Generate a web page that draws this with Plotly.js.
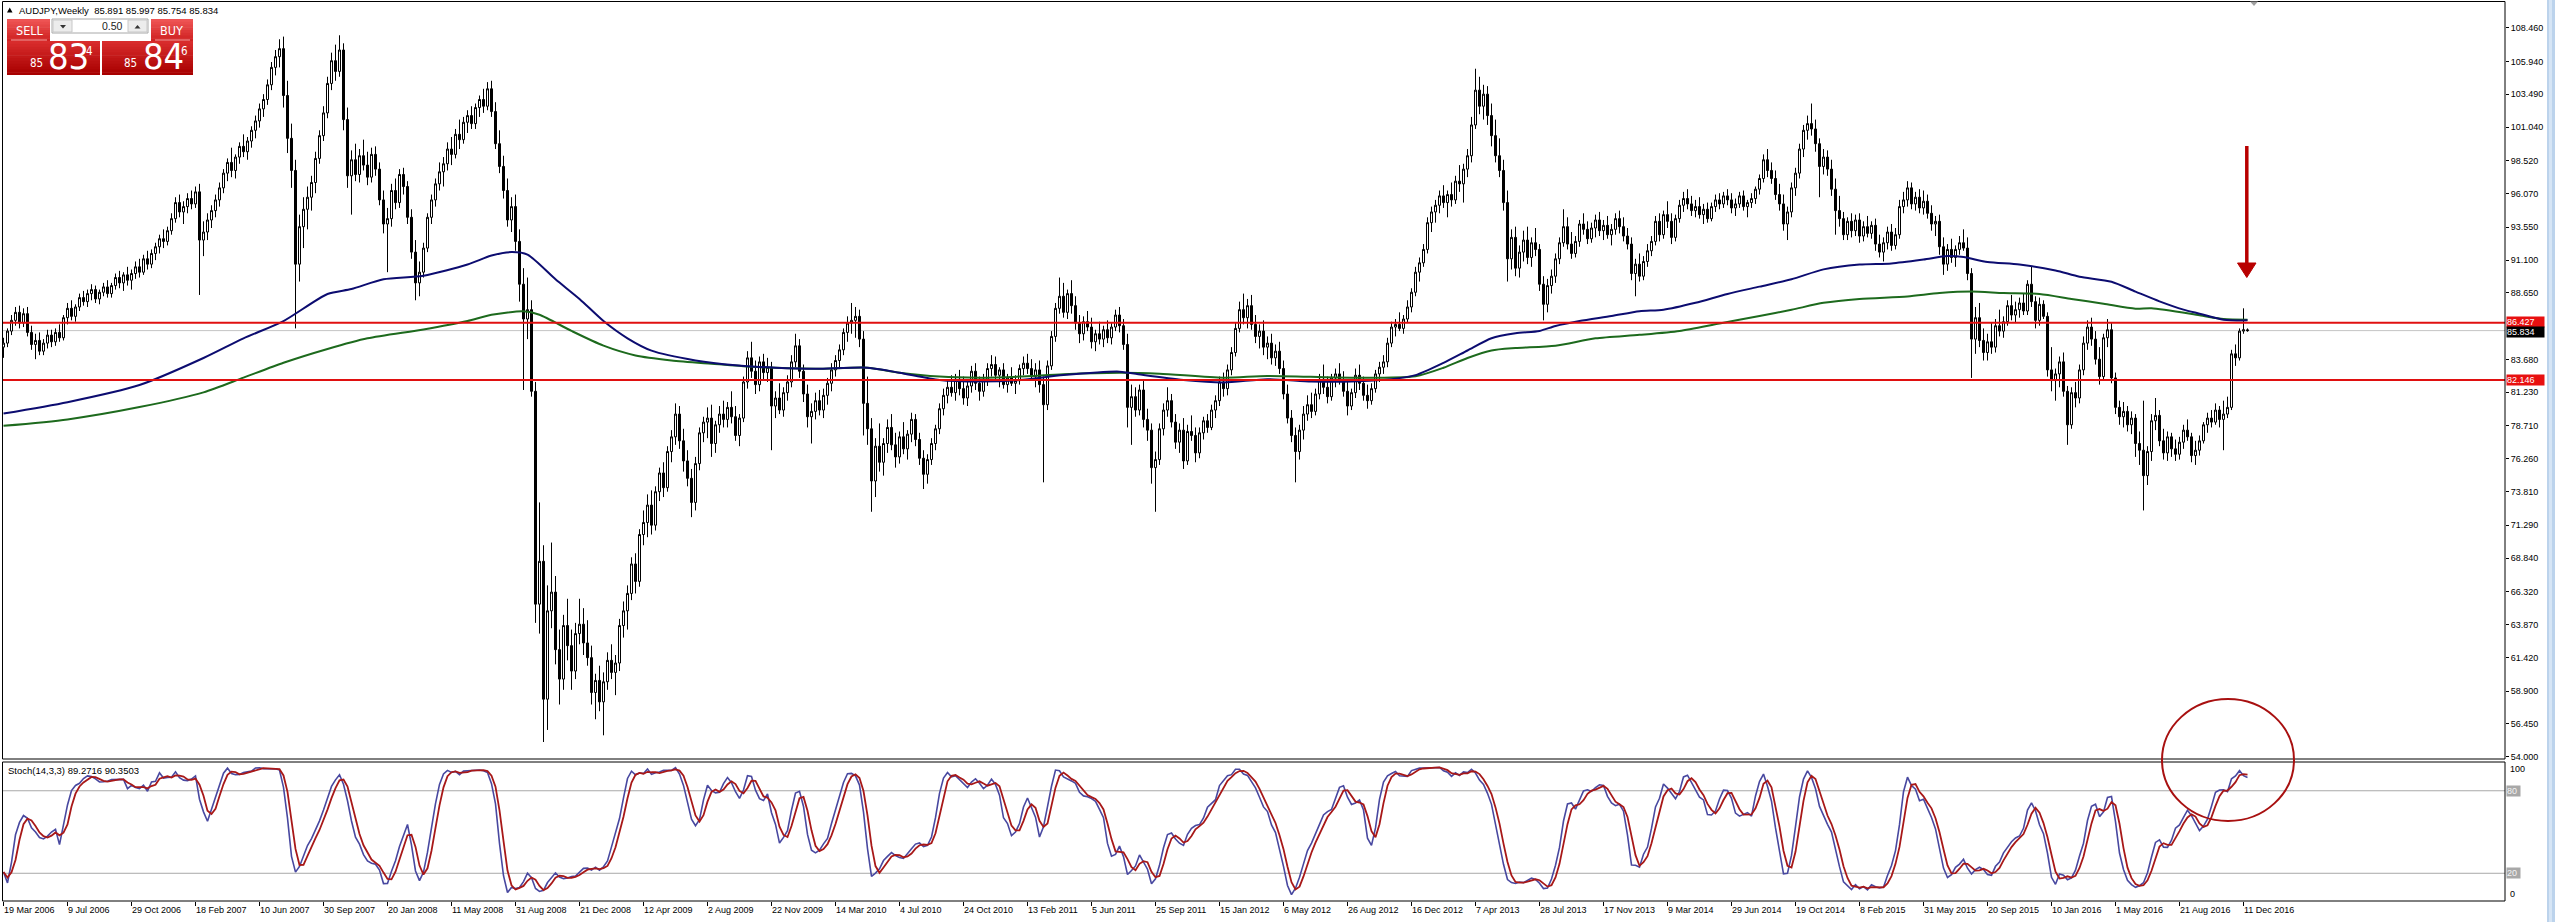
<!DOCTYPE html>
<html><head><meta charset="utf-8">
<script src="https://cdn.plot.ly/plotly-3.0.1.min.js"></script>
<style>html,body{margin:0;padding:0;background:#fff;overflow:hidden}#chart{width:2555px;height:922px}</style>
</head><body><div id="chart"></div>
<script>
// ---------------- DATA (AUDJPY weekly) ----------------
const dateLabels = ["19 Mar 2006","9 Jul 2006","29 Oct 2006","18 Feb 2007","10 Jun 2007","30 Sep 2007","20 Jan 2008","11 May 2008","31 Aug 2008","21 Dec 2008","12 Apr 2009","2 Aug 2009","22 Nov 2009","14 Mar 2010","4 Jul 2010","24 Oct 2010","13 Feb 2011","5 Jun 2011","25 Sep 2011","15 Jan 2012","6 May 2012","26 Aug 2012","16 Dec 2012","7 Apr 2013","28 Jul 2013","17 Nov 2013","9 Mar 2014","29 Jun 2014","19 Oct 2014","8 Feb 2015","31 May 2015","20 Sep 2015","10 Jan 2016","1 May 2016","21 Aug 2016","11 Dec 2016"];
const dateBar = [0,16,32,48,64,80,96,112,128,144,160,176,192,208,224,240,256,272,288,304,320,336,352,368,384,400,416,432,448,464,480,496,512,528,544,560];

const priceTicks = [108.46,105.94,103.49,101.04,98.52,96.07,93.55,91.10,88.65,83.68,81.23,78.71,76.26,73.81,71.29,68.84,66.32,63.87,61.42,58.90,56.45,54.00];
const priceTickText = ["108.460","105.940","103.490","101.040","98.520","96.070","93.550","91.100","88.650","83.680","81.230","78.710","76.260","73.810","71.290","68.840","66.320","63.870","61.420","58.900","56.450","54.000"];

const open = [
84.6,84.9,85.8,86.6,87.2,86.4,87.1,85.7,84.8,85.1,84.3,84.9,85.5,85.0,85.7,85.3,
86.8,87.5,86.9,87.6,88.3,88.0,88.6,88.9,88.2,88.7,89.1,88.6,89.2,89.8,89.4,90.0,
89.6,90.1,90.6,90.2,91.2,90.8,91.6,92.1,92.7,92.5,93.3,94.2,95.4,94.7,95.1,95.7,
95.3,96.2,92.6,93.2,94.1,94.8,95.6,96.5,97.6,98.4,97.8,98.8,99.6,99.2,100.0,100.8,
101.5,102.4,103.1,104.2,105.5,106.3,106.9,103.4,100.2,97.8,90.8,93.6,94.9,95.8,96.9,98.7,
100.4,102.1,104.3,106.0,105.2,106.8,101.6,97.4,98.6,97.5,98.9,98.2,97.3,99.0,97.9,95.6,
93.8,94.2,96.3,95.4,97.5,96.6,94.3,91.7,89.4,90.2,92.0,94.3,95.6,96.8,97.7,98.3,
99.4,99.0,100.5,100.1,101.4,101.9,101.3,102.5,103.1,102.6,103.9,102.2,99.8,98.1,96.3,94.1,
95.1,92.5,89.3,86.7,87.4,81.3,65.4,68.6,58.3,64.9,66.3,62.0,59.8,63.8,62.3,60.4,
63.2,63.9,62.5,61.4,58.8,59.7,58.1,59.6,61.2,60.3,61.0,63.8,64.9,66.2,68.4,67.1,
70.6,71.5,72.8,71.3,73.8,75.2,74.1,76.8,77.9,79.6,77.6,76.1,74.8,73.0,75.9,78.2,
79.0,79.3,77.4,78.8,79.6,79.2,80.1,79.4,78.0,79.3,82.0,83.8,82.8,81.8,83.5,82.7,
83.1,80.2,80.8,79.9,81.2,82.0,83.5,84.7,82.8,81.1,79.4,79.8,80.6,79.9,81.0,81.9,
82.9,83.6,84.4,85.7,86.4,86.6,86.9,85.2,80.4,78.5,74.6,77.2,76.0,77.4,78.6,77.3,
76.4,77.9,77.0,78.1,79.2,77.7,76.3,75.1,76.2,77.4,78.5,80.0,81.0,81.6,81.2,82.2,
81.5,80.8,81.7,82.8,81.9,81.3,82.2,83.0,83.3,82.5,82.9,81.8,82.3,81.9,82.1,83.0,
83.4,83.0,82.4,82.9,81.8,80.3,83.2,85.4,87.5,88.4,87.2,88.6,87.7,86.4,85.6,86.5,
86.1,85.0,85.6,85.2,85.9,85.3,86.1,87.0,86.2,84.8,80.1,80.9,79.9,81.4,79.2,78.4,
75.6,76.2,78.5,79.9,80.6,79.0,77.5,78.4,76.1,78.3,78.0,76.7,78.2,79.1,78.6,79.9,
80.6,82.0,81.5,82.9,84.2,86.0,87.4,86.8,87.7,86.3,85.4,85.8,84.6,84.9,83.8,84.3,
83.0,81.1,79.3,78.0,76.8,78.4,79.6,80.3,79.8,81.1,82.2,81.6,80.9,82.3,82.6,82.1,
81.3,80.2,81.2,82.5,81.9,81.0,80.6,81.5,82.6,83.1,83.5,84.9,86.1,86.3,86.0,86.7,
87.6,88.7,90.2,90.9,91.9,93.9,94.7,95.2,95.9,95.4,96.0,95.6,97.0,96.8,97.9,98.9,
101.2,103.8,102.6,103.5,101.9,100.4,98.9,97.8,95.4,91.2,92.8,90.5,91.7,92.6,91.3,92.4,
91.9,89.3,87.8,89.2,89.9,91.2,92.4,93.6,92.3,91.6,92.5,93.8,93.4,92.7,93.5,94.1,
93.3,93.7,93.0,93.4,94.2,93.6,92.9,92.3,90.1,90.8,89.9,91.0,91.8,92.5,94.0,93.0,
94.5,94.0,92.8,94.2,95.2,95.7,95.3,94.8,95.1,94.5,94.9,94.2,95.1,95.6,95.3,95.9,
95.6,95.0,95.3,95.9,95.1,95.4,95.7,96.4,97.2,98.6,97.8,97.2,96.0,95.3,93.8,94.7,
96.5,97.6,99.4,100.8,101.3,100.9,99.8,98.1,98.8,97.9,96.4,94.8,94.2,93.0,94.0,93.3,
94.1,92.9,93.6,93.1,93.7,92.3,91.7,92.4,93.2,92.2,93.0,95.1,95.6,96.5,95.3,95.8,
95.0,95.5,94.6,93.8,94.0,92.1,90.8,91.9,91.3,91.9,92.4,92.0,90.1,85.2,86.8,85.1,
84.2,85.0,84.6,86.2,85.8,86.5,87.7,87.0,87.4,87.9,87.3,89.3,88.0,86.6,87.8,86.9,
82.9,82.1,82.6,83.5,81.3,78.8,81.2,80.8,82.9,84.9,86.1,85.2,83.7,82.4,85.3,85.9,
82.3,80.1,79.4,79.8,78.8,79.3,77.4,76.9,75.0,76.8,79.1,79.5,77.6,76.7,77.9,77.0,
76.6,77.5,78.4,77.9,76.5,76.9,77.6,78.8,79.3,79.0,79.9,79.2,79.6,80.1,84.1,83.8,85.8,85.891];

const high = [
85.3,86.0,87.0,87.6,87.7,87.5,87.6,86.2,85.6,85.7,85.2,85.9,85.9,86.0,86.3,87.0,
87.9,88.1,87.8,88.6,88.8,88.9,89.3,89.2,88.9,89.4,89.6,89.4,90.1,90.3,90.2,90.6,
90.4,91.0,91.2,91.5,91.8,91.9,92.4,93.0,93.4,93.6,94.6,95.8,96.0,95.5,96.1,96.3,
96.6,96.8,94.0,94.6,95.2,96.0,96.9,97.9,98.7,99.5,99.0,99.9,100.5,100.3,101.1,101.9,
102.8,103.5,104.6,105.9,106.8,107.6,107.8,104.5,101.3,98.6,94.5,95.8,96.6,97.4,99.2,100.8,
102.6,104.8,106.6,107.2,107.9,107.3,102.5,99.3,99.8,99.4,100.1,99.2,99.5,99.6,98.4,96.3,
95.0,96.8,97.2,97.9,98.0,97.0,94.9,92.6,91.0,92.4,94.6,96.0,97.2,98.4,98.8,99.9,
100.3,100.9,101.6,101.8,102.3,102.6,102.8,103.4,103.9,104.4,104.5,102.9,100.8,98.9,97.2,95.8,
96.0,93.4,90.5,89.8,88.1,82.0,73.0,69.8,66.8,70.0,67.5,63.5,64.6,65.8,63.5,64.0,
65.8,65.1,64.2,62.3,60.2,60.8,60.3,61.8,62.4,61.6,64.3,65.6,66.8,68.9,69.2,71.0,
72.4,73.6,73.9,74.2,75.6,76.0,77.2,78.4,80.4,80.2,78.5,76.9,75.5,76.4,78.6,79.4,
80.1,80.3,79.1,80.2,80.6,80.5,81.3,80.2,79.6,82.4,84.3,85.0,83.6,83.9,84.1,83.8,
83.5,81.3,81.9,81.6,82.5,84.0,85.6,85.2,83.3,81.8,80.4,81.2,81.4,81.5,82.3,83.4,
84.0,84.8,86.0,86.9,87.9,87.6,87.4,85.8,82.4,79.3,77.8,78.9,77.8,79.2,79.6,78.2,
78.3,79.0,78.4,79.7,79.6,78.2,76.9,76.6,77.8,78.8,80.4,81.5,82.2,82.5,82.6,82.9,
82.4,82.1,83.2,83.4,82.4,82.6,83.4,84.0,83.9,83.1,83.4,82.6,83.1,82.5,83.3,83.9,
84.1,83.7,83.4,83.6,82.4,83.6,85.8,87.9,89.8,89.4,88.9,89.6,88.4,87.0,86.9,87.3,
86.8,85.9,86.5,86.2,86.6,86.4,87.4,87.6,86.7,85.6,81.8,81.6,81.8,82.1,80.0,78.9,
76.8,78.9,80.4,81.6,81.1,79.6,78.9,79.3,78.8,79.5,78.6,78.6,79.4,79.6,80.3,81.0,
82.4,82.7,83.3,84.6,86.4,88.0,88.6,88.2,88.5,87.0,86.3,86.6,85.4,85.6,84.8,85.0,
83.6,81.8,79.9,78.6,78.8,80.2,81.0,81.2,81.5,82.6,83.3,82.4,82.6,83.0,83.4,82.8,
82.1,81.5,83.0,83.3,82.4,81.8,81.9,82.9,83.5,84.0,85.3,86.5,86.7,87.2,87.0,88.1,
89.0,90.6,91.3,92.3,94.3,95.1,95.6,96.3,96.7,96.3,96.9,97.4,98.2,98.3,99.4,101.8,
105.4,104.8,104.2,104.1,102.8,101.6,100.2,98.6,96.3,93.4,93.6,92.2,93.3,93.6,92.8,93.5,
92.3,89.9,89.7,90.4,91.6,92.8,94.9,94.3,93.2,92.9,94.1,94.6,94.0,93.9,94.5,94.7,
94.1,94.4,93.8,94.6,94.8,94.3,93.5,92.8,91.2,91.6,91.4,92.3,92.9,94.4,94.6,94.8,
95.5,94.6,94.5,95.6,96.2,96.4,95.9,95.6,95.8,95.3,95.4,95.4,96.0,96.1,96.2,96.4,
96.1,95.7,96.2,96.3,95.6,96.1,96.6,97.5,99.0,99.4,98.4,97.8,96.8,96.0,95.1,96.9,
98.0,99.8,101.2,101.9,102.8,101.6,100.2,99.4,99.3,98.6,97.2,95.9,94.7,94.3,94.6,94.5,
94.6,94.0,94.4,94.0,94.2,93.0,92.8,93.6,93.8,93.5,95.6,96.2,97.0,96.9,96.2,96.4,
96.3,96.0,95.2,94.4,94.5,92.8,92.3,92.7,92.2,92.9,93.4,92.8,90.5,87.6,87.9,86.0,
85.6,86.4,86.7,87.4,86.9,88.1,88.5,88.0,88.3,88.6,89.6,90.6,88.4,88.3,88.1,87.2,
84.6,83.0,83.9,84.2,81.7,81.6,82.0,83.3,85.4,86.6,86.8,85.8,84.6,85.6,86.7,86.4,
82.7,80.6,80.5,80.2,79.8,79.6,78.3,80.6,77.2,79.6,80.8,79.9,78.5,78.3,78.2,77.7,
77.9,78.8,79.2,78.2,77.6,78.0,79.0,79.7,79.9,80.4,80.2,80.6,80.9,84.4,84.8,86.0,87.5,85.997];

const low = [
83.8,84.6,85.5,86.2,86.0,86.1,85.4,84.4,83.7,84.0,84.0,84.5,84.6,84.7,85.0,85.1,
86.3,86.6,86.5,87.3,87.7,87.6,88.1,87.9,87.8,88.4,88.3,88.3,88.9,89.0,88.8,89.2,
88.9,89.7,89.8,90.0,90.4,90.5,91.1,91.6,92.0,92.2,93.0,93.9,94.3,93.8,94.6,94.9,
95.0,88.5,91.4,92.6,93.5,94.3,95.1,96.1,97.0,97.3,97.2,98.3,98.8,98.6,99.5,100.2,
101.0,101.8,102.7,103.8,104.9,105.5,102.5,99.1,96.5,86.0,89.5,92.0,93.4,94.8,96.1,98.3,
100.0,101.7,103.8,104.5,104.8,100.8,96.5,94.5,97.0,96.9,97.8,96.7,96.9,97.4,95.2,93.1,
90.2,93.6,94.9,95.0,96.0,93.8,91.2,88.1,88.4,89.8,91.7,93.8,95.1,96.3,96.6,97.8,
98.2,98.7,99.4,99.8,100.6,100.9,100.9,101.8,102.1,102.3,101.8,99.4,97.6,95.7,93.6,93.2,
91.8,88.0,81.4,85.2,80.9,64.0,63.2,55.1,56.0,63.6,60.9,57.9,59.0,61.2,59.0,59.8,
62.4,61.6,60.8,57.9,56.8,57.4,55.6,59.0,59.8,58.6,60.4,62.9,63.5,65.7,66.2,66.7,
69.8,70.4,70.6,70.9,73.1,73.4,73.8,76.0,77.3,77.0,75.3,74.2,71.9,72.4,75.4,77.5,
77.8,76.4,76.7,78.2,78.6,78.6,78.9,77.6,77.2,79.0,81.5,82.3,81.1,81.3,82.2,82.0,
76.9,79.3,79.6,79.4,80.6,81.6,83.1,82.3,80.5,78.6,77.4,79.2,79.5,79.3,80.3,81.3,
82.4,83.1,84.0,85.0,85.6,85.3,84.6,78.0,77.3,72.3,73.4,75.3,75.0,76.7,76.9,75.6,
75.9,76.6,76.2,77.5,77.2,75.8,74.0,74.4,75.8,76.9,78.1,79.5,80.4,80.9,80.6,81.0,
80.3,80.2,81.2,81.4,80.6,80.9,81.7,82.4,82.1,81.6,81.5,81.2,81.7,81.1,81.8,82.5,
82.6,82.1,81.6,81.2,74.5,79.9,82.9,85.0,87.1,86.8,86.7,87.1,85.9,84.9,85.1,85.8,
84.5,84.3,84.8,84.6,84.9,84.8,85.8,85.7,84.4,78.6,77.3,79.4,79.5,78.6,77.6,74.4,
72.3,75.8,78.0,79.4,78.6,77.0,76.7,75.5,75.8,77.6,76.0,76.3,77.7,78.2,78.4,79.3,
80.2,80.9,81.0,82.5,83.9,85.7,86.3,86.0,85.9,84.9,84.5,84.0,83.7,83.3,83.2,82.6,
80.7,78.9,77.5,74.5,76.2,77.7,79.1,79.3,79.5,80.7,81.1,80.4,80.6,81.6,81.8,80.9,
79.5,79.9,80.8,81.4,80.6,80.0,80.3,81.2,82.0,82.6,83.1,84.6,85.4,85.8,85.6,86.4,
87.2,88.4,89.5,90.6,91.6,93.2,93.9,94.6,95.0,94.3,95.1,95.3,96.2,95.4,97.3,98.4,
100.9,102.0,101.6,101.2,99.6,98.4,97.3,94.8,89.5,90.4,89.9,89.8,91.0,90.8,90.6,91.4,
88.8,86.6,87.2,88.6,89.4,90.8,92.1,91.9,91.2,91.3,92.1,93.0,92.3,92.4,92.8,92.9,
92.6,92.7,92.2,93.0,93.1,92.5,91.9,89.6,88.4,89.5,89.6,90.6,91.4,92.2,92.5,92.7,
93.5,92.3,92.5,93.9,94.7,94.9,94.4,94.3,94.2,93.8,93.9,94.0,94.7,94.9,95.0,95.2,
94.6,94.4,95.0,94.8,94.3,95.0,95.3,96.0,96.9,97.3,96.8,95.6,94.8,93.3,92.6,94.3,
95.9,97.2,98.8,100.1,100.4,99.2,95.8,97.5,97.4,95.9,93.0,93.6,92.6,92.6,92.8,92.9,
92.4,92.5,92.8,92.7,91.8,91.3,91.0,91.9,91.8,91.9,92.7,94.6,95.1,94.9,94.8,94.6,
94.5,94.2,93.3,92.9,91.5,90.0,90.3,90.9,90.6,91.5,91.8,89.6,82.3,84.1,84.6,83.6,
83.6,84.1,84.2,85.4,85.3,86.2,86.6,86.4,86.8,87.0,87.0,87.6,86.0,86.2,86.7,82.4,
81.3,80.6,81.6,80.9,77.3,78.5,80.1,80.4,82.5,84.4,84.7,83.3,81.8,82.2,84.6,81.9,
79.6,78.8,78.6,78.3,78.1,76.4,75.8,72.4,74.3,76.1,78.4,77.2,76.2,76.1,76.4,76.1,
76.2,77.0,77.6,76.0,75.8,76.5,77.4,78.2,78.6,78.8,78.6,76.9,79.3,79.9,83.2,83.6,85.6,85.754];

const close = [
84.9,85.8,86.6,87.2,86.4,87.1,85.7,84.8,85.1,84.3,84.9,85.5,85.0,85.7,85.3,86.8,
87.5,86.9,87.6,88.3,88.0,88.6,88.9,88.2,88.7,89.1,88.6,89.2,89.8,89.4,90.0,89.6,
90.1,90.6,90.2,91.2,90.8,91.6,92.1,92.7,92.5,93.3,94.2,95.4,94.7,95.1,95.7,95.3,
96.2,92.6,93.2,94.1,94.8,95.6,96.5,97.6,98.4,97.8,98.8,99.6,99.2,100.0,100.8,101.5,
102.4,103.1,104.2,105.5,106.3,106.9,103.4,100.2,97.8,90.8,93.6,94.9,95.8,96.9,98.7,100.4,
102.1,104.3,106.0,105.2,106.8,101.6,97.4,98.6,97.5,98.9,98.2,97.3,99.0,97.9,95.6,93.8,
94.2,96.3,95.4,97.5,96.6,94.3,91.7,89.4,90.2,92.0,94.3,95.6,96.8,97.7,98.3,99.4,
99.0,100.5,100.1,101.4,101.9,101.3,102.5,103.1,102.6,103.9,102.2,99.8,98.1,96.3,94.1,95.1,
92.5,89.3,86.7,87.4,81.3,65.4,68.6,58.3,64.9,66.3,62.0,59.8,63.8,62.3,60.4,63.2,
63.9,62.5,61.4,58.8,59.7,58.1,59.6,61.2,60.3,61.0,63.8,64.9,66.2,68.4,67.1,70.6,
71.5,72.8,71.3,73.8,75.2,74.1,76.8,77.9,79.6,77.6,76.1,74.8,73.0,75.9,78.2,79.0,
79.3,77.4,78.8,79.6,79.2,80.1,79.4,78.0,79.3,82.0,83.8,82.8,81.8,83.5,82.7,83.1,
80.2,80.8,79.9,81.2,82.0,83.5,84.7,82.8,81.1,79.4,79.8,80.6,79.9,81.0,81.9,82.9,
83.6,84.4,85.7,86.4,86.6,86.9,85.2,80.4,78.5,74.6,77.2,76.0,77.4,78.6,77.3,76.4,
77.9,77.0,78.1,79.2,77.7,76.3,75.1,76.2,77.4,78.5,80.0,81.0,81.6,81.2,82.2,81.5,
80.8,81.7,82.8,81.9,81.3,82.2,83.0,83.3,82.5,82.9,81.8,82.3,81.9,82.1,83.0,83.4,
83.0,82.4,82.9,81.8,80.3,83.2,85.4,87.5,88.4,87.2,88.6,87.7,86.4,85.6,86.5,86.1,
85.0,85.6,85.2,85.9,85.3,86.1,87.0,86.2,84.8,80.1,80.9,79.9,81.4,79.2,78.4,75.6,
76.2,78.5,79.9,80.6,79.0,77.5,78.4,76.1,78.3,78.0,76.7,78.2,79.1,78.6,79.9,80.6,
82.0,81.5,82.9,84.2,86.0,87.4,86.8,87.7,86.3,85.4,85.8,84.6,84.9,83.8,84.3,83.0,
81.1,79.3,78.0,76.8,78.4,79.6,80.3,79.8,81.1,82.2,81.6,80.9,82.3,82.6,82.1,81.3,
80.2,81.2,82.5,81.9,81.0,80.6,81.5,82.6,83.1,83.5,84.9,86.1,86.3,86.0,86.7,87.6,
88.7,90.2,90.9,91.9,93.9,94.7,95.2,95.9,95.4,96.0,95.6,97.0,96.8,97.9,98.9,101.2,
103.8,102.6,103.5,101.9,100.4,98.9,97.8,95.4,91.2,92.8,90.5,91.7,92.6,91.3,92.4,91.9,
89.3,87.8,89.2,89.9,91.2,92.4,93.6,92.3,91.6,92.5,93.8,93.4,92.7,93.5,94.1,93.3,
93.7,93.0,93.4,94.2,93.6,92.9,92.3,90.1,90.8,89.9,91.0,91.8,92.5,94.0,93.0,94.5,
94.0,92.8,94.2,95.2,95.7,95.3,94.8,95.1,94.5,94.9,94.2,95.1,95.6,95.3,95.9,95.6,
95.0,95.3,95.9,95.1,95.4,95.7,96.4,97.2,98.6,97.8,97.2,96.0,95.3,93.8,94.7,96.5,
97.6,99.4,100.8,101.3,100.9,99.8,98.1,98.8,97.9,96.4,94.8,94.2,93.0,94.0,93.3,94.1,
92.9,93.6,93.1,93.7,92.3,91.7,92.4,93.2,92.2,93.0,95.1,95.6,96.5,95.3,95.8,95.0,
95.5,94.6,93.8,94.0,92.1,90.8,91.9,91.3,91.9,92.4,92.0,90.1,85.2,86.8,85.1,84.2,
85.0,84.6,86.2,85.8,86.5,87.7,87.0,87.4,87.9,87.3,89.3,88.0,86.6,87.8,86.9,82.9,
82.1,82.6,83.5,81.3,78.8,81.2,80.8,82.9,84.9,86.1,85.2,83.7,82.4,85.3,85.9,82.3,
80.1,79.4,79.8,78.8,79.3,77.4,76.9,75.0,76.8,79.1,79.5,77.6,76.7,77.9,77.0,76.6,
77.5,78.4,77.9,76.5,76.9,77.6,78.8,79.3,79.0,79.9,79.2,79.6,80.1,84.1,83.8,85.8,85.9,85.834];

// Stoch %K for the first bars (before a full 14-bar window exists)
const stochKStart = [21,13,28,48,57,62,60,53,50,46,45,47,50,52];

// moving averages (read at sample bars)
const maBlueBar = [0,16,34,50,60,70,81,87,95,105,116,122,127,131,138,144,150,156,162,173,183,193,203,216,224,234,244,254,265,279,285,295,305,316,327,337,347,353,360,366,372,378,384,388,394,402,409,415,423,431,439,447,455,464,472,480,486,490,496,504,513,519,527,533,539,545,549,555,561];
const maBlueVal = [79.64,80.49,81.77,83.79,85.26,86.55,88.57,88.94,89.67,89.93,90.77,91.44,91.70,91.51,89.67,88.20,86.55,85.26,84.34,83.61,83.24,83.06,82.98,83.06,82.69,82.14,82.03,82.14,82.51,82.77,82.51,82.14,81.96,82.20,82.03,82.03,82.21,82.51,83.43,84.35,85.26,85.63,85.81,86.18,86.55,86.92,87.28,87.39,87.91,88.57,89.12,89.67,90.41,90.77,90.85,91.14,91.40,91.33,90.96,90.77,90.33,89.86,89.49,88.75,88.02,87.40,87.10,86.65,86.60];
const maGreenBar = [0,16,34,50,60,70,81,91,105,116,122,130,134,142,150,158,167,177,187,203,216,224,234,244,254,265,279,289,305,316,337,353,360,366,372,378,388,398,409,419,429,439,447,455,464,476,484,492,500,509,517,525,533,537,549,555,561];
const maGreenVal = [78.72,79.20,80.12,81.22,82.32,83.43,84.46,85.26,85.92,86.55,87.02,87.28,87.02,85.81,84.71,83.98,83.61,83.36,83.13,82.98,83.06,82.69,82.40,82.32,82.40,82.58,82.69,82.62,82.32,82.45,82.32,82.43,83.06,83.79,84.35,84.53,84.71,85.26,85.52,85.81,86.37,86.92,87.39,87.91,88.20,88.39,88.64,88.75,88.64,88.57,88.20,87.84,87.47,87.50,86.98,86.70,86.65];

const level1 = 86.427, level2 = 82.146, bidPrice = 85.834;
const headerText = "AUDJPY,Weekly\u00a0\u00a085.891 85.997 85.754 85.834";
const stochTitle = "Stoch(14,3,3) 89.2716 90.3503";

// ---------------- helpers ----------------
const W=2555, H=922, ML=2, MR=50, MT=1, MB=21;
const PW=W-ML-MR, PH=H-MT-MB;
const X = px => (px-ML)/PW;
const Y = py => (H-MB-py)/PH;
const bars = open.map((_,i)=>i);

function stoch(h,l,c,kp,sl,dp,seed){
  const n=c.length,num=[],den=[],K=[],D=[];
  for(let i=0;i<n;i++){let hh=-1e9,ll=1e9;for(let j=Math.max(0,i-kp+1);j<=i;j++){hh=Math.max(hh,h[j]);ll=Math.min(ll,l[j]);}num.push(c[i]-ll);den.push(hh-ll);}
  for(let i=0;i<n;i++){
    if(i<seed.length){K.push(seed[i]);continue;}
    let a=0,b=0;for(let j=Math.max(0,i-sl+1);j<=i;j++){a+=num[j];b+=den[j];}K.push(b>0?100*a/b:50);}
  for(let i=0;i<n;i++){let s=0,m=0;for(let j=Math.max(0,i-dp+1);j<=i;j++){s+=K[j];m++;}D.push(s/m);}
  return {K,D};
}
const st = stoch(high,low,close,14,3,3,stochKStart);

const xr = [-0.375, -0.375 + PW/4];
const FONT = "Liberation Sans, Arial, sans-serif";
const NARROW = "Liberation Sans Narrow, DejaVu Sans Condensed, Arial Narrow, sans-serif";

const traces = [
  {type:'candlestick', x:bars, open:open, high:high, low:low, close:close, xaxis:'x', yaxis:'y',
   increasing:{line:{color:'#000',width:1}, fillcolor:'#ffffff'},
   decreasing:{line:{color:'#000',width:1}, fillcolor:'#000000'},
   whiskerwidth:0, hoverinfo:'skip', showlegend:false},
  {type:'scatter', mode:'lines', x:maGreenBar, y:maGreenVal, xaxis:'x', yaxis:'y',
   line:{color:'#1d6a1d', width:2, shape:'spline', smoothing:0.7}, hoverinfo:'skip'},
  {type:'scatter', mode:'lines', x:maBlueBar, y:maBlueVal, xaxis:'x', yaxis:'y',
   line:{color:'#0c0c70', width:2, shape:'spline', smoothing:0.7}, hoverinfo:'skip'},
  {type:'scatter', mode:'lines', x:bars, y:st.K, xaxis:'x2', yaxis:'y2',
   line:{color:'#4848a0', width:1.6}, hoverinfo:'skip'},
  {type:'scatter', mode:'lines', x:bars, y:st.D, xaxis:'x2', yaxis:'y2',
   line:{color:'#a81818', width:1.8}, hoverinfo:'skip'}
];

const shapes = [];
shapes.push({type:'line', xref:'paper', x0:0, x1:1, yref:'y', y0:bidPrice, y1:bidPrice, line:{color:'#c4c4c4', width:1}, layer:'below'});
[level1, level2].forEach(v=>shapes.push({type:'line', xref:'paper', x0:0, x1:1, yref:'y', y0:v, y1:v, line:{color:'#e01010', width:2}, layer:'above'}));
[80,20].forEach(v=>shapes.push({type:'line', xref:'paper', x0:0, x1:1, yref:'y2', y0:v, y1:v, line:{color:'#a8a8a8', width:1}, layer:'below'}));
shapes.push({type:'rect', xref:'paper', yref:'paper', x0:X(2.5), x1:X(2505), y0:Y(759), y1:Y(1.5), line:{color:'#000', width:1}, fillcolor:'rgba(0,0,0,0)'});
shapes.push({type:'rect', xref:'paper', yref:'paper', x0:X(2.5), x1:X(2505), y0:Y(901), y1:Y(762), line:{color:'#000', width:1}, fillcolor:'rgba(0,0,0,0)'});
shapes.push({type:'line', xref:'paper', yref:'paper', x0:X(2246.8), x1:X(2246.8), y0:Y(146), y1:Y(266), line:{color:'#b80000', width:3.5}});
const path = pts => pts.map((p,k)=>(k?'L':'M')+X(p[0])+','+Y(p[1])).join(' ')+' Z';
shapes.push({type:'path', xref:'paper', yref:'paper', path:path([[2237.5,263],[2256,263],[2246.8,277.5]]), fillcolor:'#b80000', line:{color:'#b80000', width:1}});
shapes.push({type:'circle', xref:'paper', yref:'paper', x0:X(2162), x1:X(2294), y0:Y(821), y1:Y(699), line:{color:'#a81010', width:2}});
shapes.push({type:'rect', xref:'paper', yref:'paper', x0:X(2547), x1:X(2556), y0:Y(923), y1:Y(-1), fillcolor:'#bcd3ec', line:{width:0}});
shapes.push({type:'rect', xref:'paper', yref:'paper', x0:X(2549), x1:X(2552), y0:Y(923), y1:Y(-1), fillcolor:'#d6e5f5', line:{width:0}});
shapes.push({type:'path', xref:'paper', yref:'paper', path:path([[2250,1.5],[2258,1.5],[2254,6]]), fillcolor:'#a0a0a0', line:{width:0}});
shapes.push({type:'path', xref:'paper', yref:'paper', path:path([[7,12.5],[12.5,12.5],[9.75,7.5]]), fillcolor:'#000', line:{width:0}});

function grad(x0,x1,y0,y1,c0,c1,n){
  for(let k=0;k<n;k++){
    const t=n>1?k/(n-1):0;
    const col='rgb('+c0.map((v,j)=>Math.round(v+(c1[j]-v)*t)).join(',')+')';
    shapes.push({type:'rect', xref:'paper', yref:'paper', x0:X(x0), x1:X(x1),
      y0:Y(y0+(y1-y0)*k/n), y1:Y(Math.min(y1, y0+(y1-y0)*(k+1)/n+0.6)), fillcolor:col, line:{width:0}});
  }
}
grad(7,50,19,41,[238,84,84],[208,34,34],8);
grad(151,193,19,41,[238,84,84],[208,34,34],8);
grad(7,100,41,75,[216,44,44],[168,0,0],12);
grad(102,193,41,75,[216,44,44],[168,0,0],12);
shapes.push({type:'line', xref:'paper', yref:'paper', x0:X(11), x1:X(47), y0:Y(40), y1:Y(40), line:{color:'#f4a0a0', width:1}});
shapes.push({type:'line', xref:'paper', yref:'paper', x0:X(155), x1:X(190), y0:Y(40), y1:Y(40), line:{color:'#f4a0a0', width:1}});
shapes.push({type:'rect', xref:'paper', yref:'paper', x0:X(52), x1:X(148), y0:Y(33), y1:Y(19), fillcolor:'#ffffff', line:{color:'#a8a8a8', width:1}});
shapes.push({type:'rect', xref:'paper', yref:'paper', x0:X(53), x1:X(72), y0:Y(32), y1:Y(20), fillcolor:'#ececec', line:{color:'#c8c8c8', width:1}});
shapes.push({type:'rect', xref:'paper', yref:'paper', x0:X(128), x1:X(147), y0:Y(32), y1:Y(20), fillcolor:'#ececec', line:{color:'#c8c8c8', width:1}});
shapes.push({type:'path', xref:'paper', yref:'paper', path:path([[60,25],[66,25],[63,28.5]]), fillcolor:'#333', line:{width:0}});
shapes.push({type:'path', xref:'paper', yref:'paper', path:path([[134.5,28.5],[140.5,28.5],[137.5,25]]), fillcolor:'#333', line:{width:0}});

const ann = [];
function txt(t,px,py,opt){
  ann.push(Object.assign({text:t, xref:'paper', yref:'paper', x:X(px), y:Y(py), showarrow:false,
    xanchor:'left', yanchor:'middle', font:{family:FONT, size:9, color:'#000'}, borderpad:0}, opt||{}));
}
txt(headerText, 18, 10, {font:{family:FONT, size:9.5, color:'#000'}});
txt(stochTitle, 7, 770, {font:{family:FONT, size:9.5, color:'#000'}});
txt('100', 2509, 769);
txt('0', 2509, 894);
txt('SELL', 15, 30, {font:{family:NARROW, size:12.5, color:'#fff'}});
txt('BUY', 159, 30, {font:{family:NARROW, size:12.5, color:'#fff'}});
txt('0.50', 124, 26.5, {xanchor:'right', font:{family:FONT, size:10.5, color:'#222'}});
txt('85', 29, 63.5, {font:{family:NARROW, size:11.5, color:'#fff'}});
txt('83', 46.5, 56.5, {font:{family:NARROW, size:36, color:'#fff'}});
txt('4', 84.5, 51, {font:{family:NARROW, size:11.5, color:'#fff'}});
txt('85', 123, 63.5, {font:{family:NARROW, size:11.5, color:'#fff'}});
txt('84', 141.5, 56.5, {font:{family:NARROW, size:36, color:'#fff'}});
txt('6', 179.5, 51, {font:{family:NARROW, size:11.5, color:'#fff'}});
function box(t,v,yref,bg,fg,ys){
  ann.push({text:t, xref:'paper', x:X(2506), xanchor:'left', yref:yref, y:v, yanchor:'middle', yshift:ys||0, showarrow:false,
    bgcolor:bg, borderpad:0, height:9.5, width:37, align:'left', font:{family:FONT, size:9, color:fg}});
}
box(level1.toFixed(3), level1, 'y', '#e81010', '#fff', 0.5);
box(level2.toFixed(3), level2, 'y', '#e81010', '#fff', 0);
box(bidPrice.toFixed(3), bidPrice, 'y', '#000', '#fff', -1.5);
box('80', 80, 'y2', '#a8a8a8', '#f4f4f4', 0);
box('20', 20, 'y2', '#a8a8a8', '#f4f4f4', 0);
ann[ann.length-1].width = 13; ann[ann.length-2].width = 13;

const layout = {
  width:W, height:H, margin:{l:ML, r:MR, t:MT, b:MB, pad:0},
  paper_bgcolor:'#ffffff', plot_bgcolor:'#ffffff', showlegend:false,
  font:{family:FONT, size:9, color:'#000'},
  boxgap:0.5, boxgroupgap:0,
  xaxis:{domain:[0,1], range:xr, anchor:'y', showticklabels:false, ticks:'', showgrid:false, zeroline:false, showline:false, rangeslider:{visible:false}, fixedrange:true},
  yaxis:{domain:[(901-759)/PH, 1], range:[53.83,110.46], side:'right', anchor:'x', tickvals:priceTicks, ticktext:priceTickText,
         ticks:'outside', ticklen:3, tickcolor:'#000', tickwidth:1, showgrid:false, zeroline:false, showline:false, fixedrange:true,
         tickfont:{family:FONT, size:9, color:'#000'}},
  xaxis2:{domain:[0,1], range:xr, anchor:'y2', tickvals:dateBar, ticktext:dateLabels, ticks:'outside', ticklen:4, tickcolor:'#000',
          ticklabelposition:'outside right', showgrid:false, zeroline:false, showline:false, fixedrange:true,
          tickfont:{family:FONT, size:9, color:'#000'}},
  yaxis2:{domain:[0,(901-762)/PH], range:[-0.15,100.9], side:'right', anchor:'x2', showticklabels:false, ticks:'', showgrid:false, zeroline:false, showline:false, fixedrange:true},
  shapes:shapes, annotations:ann
};
Plotly.newPlot('chart', traces, layout, {staticPlot:true, displayModeBar:false}).then(gd=>{
  // tune candle body width to 2px between outline centres (3px visible, like the terminal)
  try{
    const p = gd.querySelector('.boxlayer .trace path.box');
    if(p){
      const w = p.getBBox().width;
      if(w>0 && Math.abs(w-2)>0.15){
        const g = 1-(1-layout.boxgap)*2/w;
        if(g>0 && g<0.95) Plotly.relayout(gd,{boxgap:g});
      }
    }
  }catch(e){}
});
</script></body></html>
